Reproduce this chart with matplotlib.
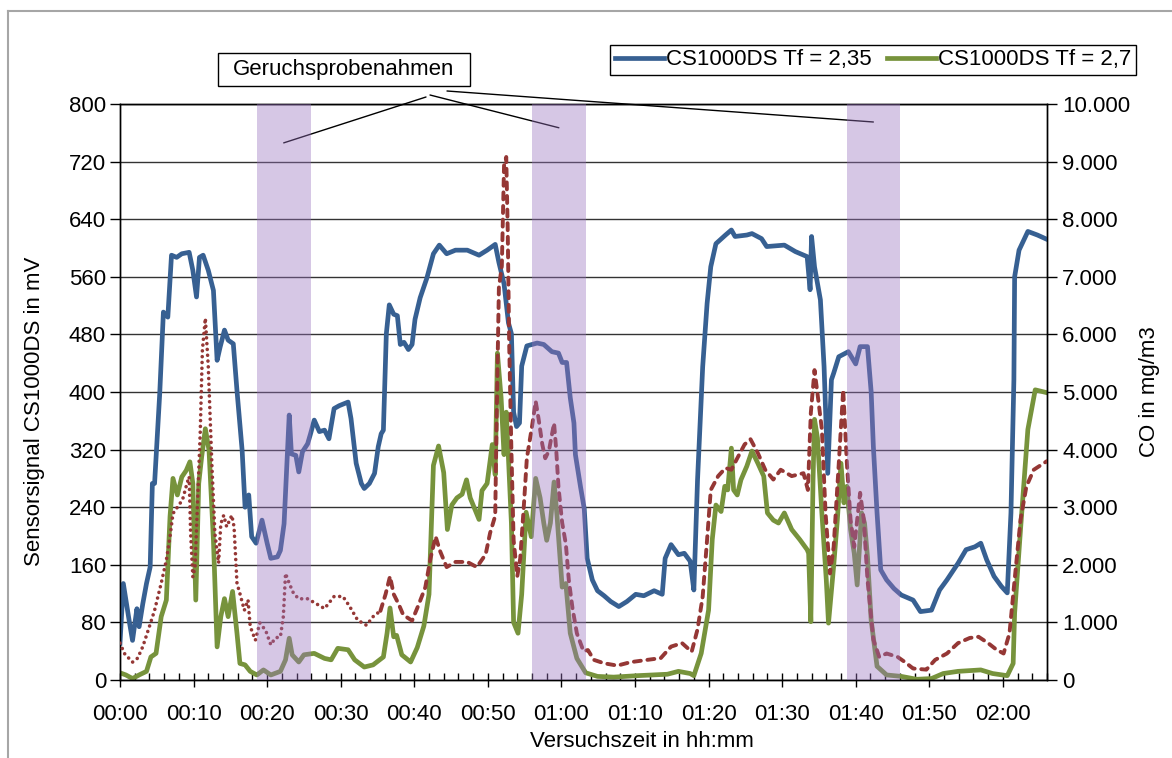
import matplotlib
matplotlib.use("Agg")
import matplotlib.pyplot as plt
from matplotlib.lines import Line2D
from matplotlib.patches import Rectangle
from matplotlib.ticker import MultipleLocator, FuncFormatter

plt.rcParams['font.family'] = ['Liberation Sans', 'DejaVu Sans']

# ---------------- data (time in minutes) ---------------- #
t_blue = [0, 0.45, 1.3, 1.7, 2.3, 2.6, 3.1, 3.6, 4.1, 4.4, 4.7, 5.4, 5.9, 6.5, 7.0, 7.7, 8.4, 9.4, 9.9,
          10.4, 10.8, 11.3, 12.0, 12.7, 13.2, 13.6, 14.2, 14.7, 15.4, 15.9, 16.6, 17.0, 17.5, 17.9,
          18.5, 19.3, 20.0, 20.5, 21.4, 21.8, 22.3, 23.0, 23.3, 23.9, 24.3, 24.8, 25.5, 25.9, 26.4,
          27.1, 27.8, 28.4, 29.1, 29.8, 31.0, 31.4, 32.1, 32.8, 33.2, 33.9, 34.6, 35.1, 35.5, 35.8,
          36.2, 36.6, 37.2, 37.7, 38.1, 38.6, 39.2, 39.7, 40.1, 40.8, 41.7, 42.6, 43.4, 44.4, 45.6,
          47.2, 48.8, 49.9, 51.0, 51.5, 52.2, 52.8, 53.2, 53.5, 53.9, 54.3, 54.6, 55.3, 56.7, 57.6,
          58.7, 59.6, 60.1, 60.7, 61.2, 61.7, 61.9, 62.6, 63.1, 63.5, 64.2, 64.9, 65.8, 66.7, 67.8,
          68.9, 70.1, 71.2, 72.6, 73.7, 74.1, 74.9, 75.9, 76.7, 77.5, 78.0, 78.5, 79.2, 79.8, 80.3,
          81.0, 82.3, 83.1, 83.6, 85.2, 85.9, 87.2, 87.9, 90.3, 91.8, 93.4, 93.8, 94.0, 94.4, 95.2,
          95.7, 96.2, 96.7, 97.0, 97.7, 99.0, 100.0, 100.6, 101.6, 102.1, 102.4, 102.9, 103.4, 104.2,
          105.2, 106.2, 107.8, 108.8, 110.3, 111.4, 112.4, 113.9, 115.0, 116.2, 117.0, 117.8, 118.8,
          119.8, 120.6, 121.1, 121.5, 121.6, 122.2, 123.4, 124.7, 126.0]
v_blue = [51, 134, 79, 55, 99, 74, 106, 134, 157, 273, 273, 398, 511, 504, 590, 587, 592, 594, 569,
          532, 587, 590, 569, 541, 444, 462, 486, 472, 467, 402, 319, 240, 257, 199,
          190, 222, 190, 169, 171, 180, 217, 368, 314, 312, 289, 317, 328, 342, 361,
          345, 347, 335, 377, 381, 386, 363, 301, 273, 266, 273, 287, 324, 342, 347,
          481, 521, 508, 506, 466, 469, 459, 466, 501, 531, 558, 592, 604, 592, 597,
          597, 590, 597, 605, 580, 550, 496, 481, 372, 352, 357, 436, 464, 468, 466,
          456, 454, 441, 441, 392, 357, 313, 268, 238, 169, 139, 124, 117, 109, 102,
          109, 119, 117, 124, 119, 169, 188, 174, 176, 165, 125, 278, 435, 523, 574,
          606, 618, 625, 616, 618, 620, 613, 602, 604, 595, 588, 542, 616, 574, 528,
          435, 287, 417, 426, 449, 456, 439, 463, 463, 400, 324, 232, 153, 139,
          127, 118, 111, 95, 97, 125, 139, 162, 181, 185, 190, 167, 144,
          130, 121, 232, 417, 560, 597, 623, 618, 612]

t_green = [0, 0.8, 1.7, 2.6, 3.6, 4.2, 4.9, 5.6, 6.3, 6.8, 7.2, 7.8, 8.4, 9.0, 9.5, 9.9, 10.3, 10.7,
           11.1, 11.6, 12.1, 12.7, 13.2, 13.7, 14.2, 14.7, 15.3, 15.9, 16.3, 17.0, 17.7, 18.6, 19.5,
           20.5, 21.8, 22.5, 23.0, 23.4, 24.3, 25.0, 26.4, 27.8, 28.7, 29.6, 31.0, 31.9, 33.2, 34.4,
           35.8, 36.3, 36.7, 37.2, 37.6, 38.3, 39.5, 40.4, 41.3, 42.0, 42.6, 43.3, 44.0, 44.5, 45.1,
           45.8, 46.5, 47.1, 47.6, 48.8, 49.2, 49.9, 50.6, 51.0, 51.3, 51.8, 52.2, 52.5, 52.8, 53.2,
           53.5, 54.1, 54.6, 55.2, 55.9, 56.5, 57.1, 57.6, 58.0, 58.5, 59.0, 59.4, 60.1, 60.6, 61.2,
           62.1, 63.3, 64.9, 67.1, 70.3, 74.4, 75.9, 77.5, 78.0, 79.0, 80.0, 80.5, 81.0, 81.7, 82.2,
           82.6, 83.1, 83.4, 83.9, 84.4, 85.2, 85.9, 86.7, 87.5, 88.0, 88.8, 89.5, 90.3, 91.3, 92.4,
           93.4, 93.6, 93.9, 94.2, 94.4, 94.8, 95.4, 96.0, 96.3, 97.0, 97.5, 98.0, 98.4, 98.8, 99.3,
           99.8, 100.2, 100.8, 101.2, 101.6, 102.1, 102.9, 104.2, 106.2, 108.3, 110.3, 111.9, 113.9,
           117.0, 118.6, 120.6, 121.4, 121.6, 122.4, 123.4, 124.4, 126.0]
v_green = [10, 7, 2, 7, 12, 32, 37, 88, 111, 227, 280, 257, 282, 291, 303, 273, 111, 273,
           310, 349, 319, 194, 46, 88, 113, 88, 123, 65, 23, 21, 12, 7, 14,
           7, 12, 28, 58, 35, 25, 35, 37, 30, 28, 44, 42, 28, 18, 21,
           32, 65, 100, 60, 62, 35, 25, 45, 75, 119, 298, 325, 288, 209, 243,
           253, 258, 278, 253, 223, 263, 273, 327, 285, 454, 392, 313, 372, 308, 218,
           80, 65, 119, 233, 199, 280, 253, 218, 194, 218, 275, 228, 129, 134, 65,
           30, 10, 5, 4, 6, 8, 12, 9, 6, 37, 97, 195, 243, 234, 269,
           264, 322, 264, 257, 278, 297, 318, 301, 283, 232, 222, 218, 232, 209, 195,
           181, 176, 81, 278, 362, 336, 232, 139, 79, 158, 222, 301, 246, 269, 209,
           176, 132, 232, 218, 171, 83, 19, 7, 5, 1, 2, 9, 12,
           14, 9, 6, 23, 93, 209, 348, 403, 399]

# CO in mg/m3, first part (dotted) and second part (dashed)
t_co_dot = [0, 0.6, 1.7, 2.4, 3.1, 4.0, 4.7, 5.6, 6.3, 6.8, 7.2, 7.8, 8.5, 9.1, 9.4, 9.6, 9.9, 10.2,
            10.5, 10.9, 11.2, 11.6, 12.0, 12.5, 12.9, 13.4, 13.7, 14.1, 14.5, 15.2, 15.5, 15.9, 16.3,
            16.9, 17.4, 17.7, 18.4, 19.0, 19.8, 20.5, 21.1, 21.8, 22.2, 22.5, 23.0, 23.6, 24.3, 25.5,
            26.6, 27.8, 29.1, 30.3, 31.2, 32.3, 33.5, 34.4, 35.4]
co_dot = [640, 460, 310, 380, 580, 930, 1210, 1680, 2080, 2490, 2890, 3000, 3130, 3410, 3530, 2540,
          1790, 1960, 2950, 4280, 5730, 6280, 5440, 3700, 2540, 2030, 2710, 2860, 2660, 2860, 2660,
          1680, 1500, 1210, 1390, 930, 690, 990, 860, 610, 730, 750, 1100, 1850, 1680, 1500, 1410,
          1410, 1330, 1240, 1450, 1450, 1280, 1040, 950, 1100, 1200]
t_co_dash = [35.4, 36.1, 36.7, 37.2, 37.9, 38.5, 39.7, 40.6, 41.5, 42.2, 42.9, 43.5, 44.4, 45.6, 47.2,
             48.5, 49.7, 50.3, 51.0, 51.2, 51.5, 51.9, 52.2, 52.5, 52.7, 52.9, 53.2, 53.5, 54.0, 54.4,
             54.9, 55.3, 56.0, 56.5, 56.9, 57.4, 57.8, 58.3, 59.0, 59.3, 59.6, 60.1, 60.6, 61.0, 61.5,
             62.1, 63.0, 63.6, 64.4, 65.8, 67.6, 69.4, 71.7, 73.5, 74.9, 76.4, 77.7, 78.5, 79.2, 79.8,
             80.3, 81.3, 82.3, 83.1, 83.9, 84.9, 85.7, 86.7, 87.7, 88.8, 89.8, 91.3, 92.9, 93.5, 93.9,
             94.4, 94.8, 95.4, 95.9, 96.5, 97.0, 97.7, 98.3, 98.8, 99.3, 99.8, 100.6, 101.1, 101.6,
             102.4, 103.2, 104.2, 105.7, 106.7, 107.8, 109.6, 110.8, 112.4, 113.9, 115.5, 116.7, 118.0,
             119.1, 120.1, 120.9, 121.6, 122.4, 123.2, 124.2, 126.0]
co_dash = [1200, 1490, 1800, 1490, 1310, 1130, 1030, 1310, 1610, 2110, 2490, 2240, 1960, 2050, 2050,
           1960, 2180, 2550, 2850, 4590, 6810, 7190, 8930, 9080, 7810, 5830, 3980, 2430, 1800, 2110,
           3040, 3850, 4400, 4840, 4530, 4090, 3850, 3980, 4460, 3980, 3350, 2730, 2360, 1740, 1250,
           810, 500, 520, 350, 290, 250, 310, 350, 380, 580, 640, 490, 880, 1450, 2440,
           3300, 3540, 3680, 3650, 3850, 4090, 4180, 3940, 3650, 3480, 3650, 3540, 3590, 3300, 4640,
           5380, 4980, 4350, 2900, 1850, 2310, 3760, 5040, 3760, 2780, 2310, 3250, 2780, 1740,
           700, 400, 460, 400, 310, 200, 180, 350, 460, 640, 730, 750, 640,
           530, 460, 810, 1740, 2780, 3360, 3650, 3800]

# odour sampling periods (minutes)
band_start = [18.6, 56.0, 98.8]
band_end = [25.9, 63.3, 106.0]

labels = ['CS1000DS Tf = 2,35', 'CS1000DS Tf = 2,7']
BLUE, GREEN, RED = '#376092', '#77933C', '#953735'
FS = 16

# ---------------- figure ---------------- #
W, H = 1172, 758
fig = plt.figure(figsize=(W / 100, H / 100), dpi=100)
ax = fig.add_axes([120 / W, 1 - 680 / H, 927 / W, 576 / H])
ax2 = ax.twinx()

ax.plot(t_blue, v_blue, color=BLUE, lw=3.4, solid_joinstyle='round', label=labels[0], zorder=3)
ax.plot(t_green, v_green, color=GREEN, lw=3.4, solid_joinstyle='round', label=labels[1], zorder=2)
ax2.plot(t_co_dot, co_dot, color=RED, lw=2.6, linestyle=(0, (0.01, 1.6)),
         dash_capstyle='round', zorder=3)
ax2.plot(t_co_dash, co_dash, color=RED, lw=2.8, linestyle=(0, (1.8, 1.7)),
         dash_capstyle='round', zorder=3)

for s, e in zip(band_start, band_end):
    ax2.axvspan(s, e, color=(0.60, 0.45, 0.75), alpha=0.40, lw=0, zorder=5)

ax.set_xlim(0, 126)
ax.set_ylim(0, 800)
ax2.set_ylim(0, 10000)

ax.yaxis.set_major_locator(MultipleLocator(80))
ax2.yaxis.set_major_locator(MultipleLocator(1000))
ax.xaxis.set_major_locator(MultipleLocator(10))
ax.xaxis.set_minor_locator(MultipleLocator(2))
ax.xaxis.set_major_formatter(FuncFormatter(lambda v, p: f"{int(v) // 60:02d}:{int(v) % 60:02d}"))
ax2.yaxis.set_major_formatter(FuncFormatter(lambda v, p: f"{int(v):,}".replace(',', '.')))

ax.grid(axis='y', color='#333333', lw=1.0)
ax.set_axisbelow(True)
for a in (ax, ax2):
    for sp in a.spines.values():
        sp.set_color('black')
        sp.set_linewidth(1.0)
ax.tick_params(axis='x', which='major', direction='inout', length=10, width=1, labelsize=FS, pad=12)
ax.tick_params(axis='x', which='minor', direction='in', length=5, width=1)
ax.tick_params(axis='y', direction='out', length=7, width=1, labelsize=FS, pad=3)
ax2.tick_params(axis='y', direction='out', length=7, width=1, labelsize=FS, pad=4)

ax.set_ylabel('Sensorsignal CS1000DS in mV', fontsize=FS)
ax.yaxis.set_label_coords(-0.081, 0.467)
ax2.set_ylabel('CO in mg/m3', fontsize=FS)
ax2.yaxis.set_label_coords(1.099, 0.5)
ax.set_xlabel('Versuchszeit in hh:mm', fontsize=FS)
ax.xaxis.set_label_coords(0.563, -0.088)

# legend
handles = [Line2D([], [], color=BLUE, lw=3.4), Line2D([], [], color=GREEN, lw=3.4)]
leg = fig.legend(handles, labels, loc='center', bbox_to_anchor=(873 / W, 1 - 60 / H), ncol=2,
                 fontsize=FS, frameon=True, fancybox=False, edgecolor='black', framealpha=1,
                 handlelength=2.2, handletextpad=0.1, columnspacing=0.7, borderpad=0.2,
                 borderaxespad=0)
leg.get_frame().set_linewidth(1.0)

# annotation box and leader lines
fig.add_artist(Rectangle((218 / W, 1 - 86 / H), 252 / W, 33 / H, transform=fig.transFigure,
                         facecolor='white', edgecolor='black', lw=1.0))
fig.text(344 / W, 1 - 69 / H, 'Geruchsprobenahmen', fontsize=FS, ha='center', va='center')
starts = [(426, 97), (430, 95), (447, 91)]
ends_y = [746, 767, 775]
for (sx, sy), s, e, ey in zip(starts, band_start, band_end, ends_y):
    ax.annotate('', xy=((s + e) / 2, ey), xycoords='data',
                xytext=(sx / W, 1 - sy / H), textcoords='figure fraction',
                arrowprops=dict(arrowstyle='-', color='black', lw=1.0, shrinkA=0, shrinkB=0),
                annotation_clip=False, zorder=10)

# outer chart frame
fig.add_artist(Line2D([8 / W, 1], [1 - 11 / H, 1 - 11 / H], transform=fig.transFigure,
                      color='#a6a6a6', lw=1.5))
fig.add_artist(Line2D([8 / W, 8 / W], [0, 1 - 11 / H], transform=fig.transFigure,
                      color='#a6a6a6', lw=1.5))

fig.savefig('out.png', dpi=100)
